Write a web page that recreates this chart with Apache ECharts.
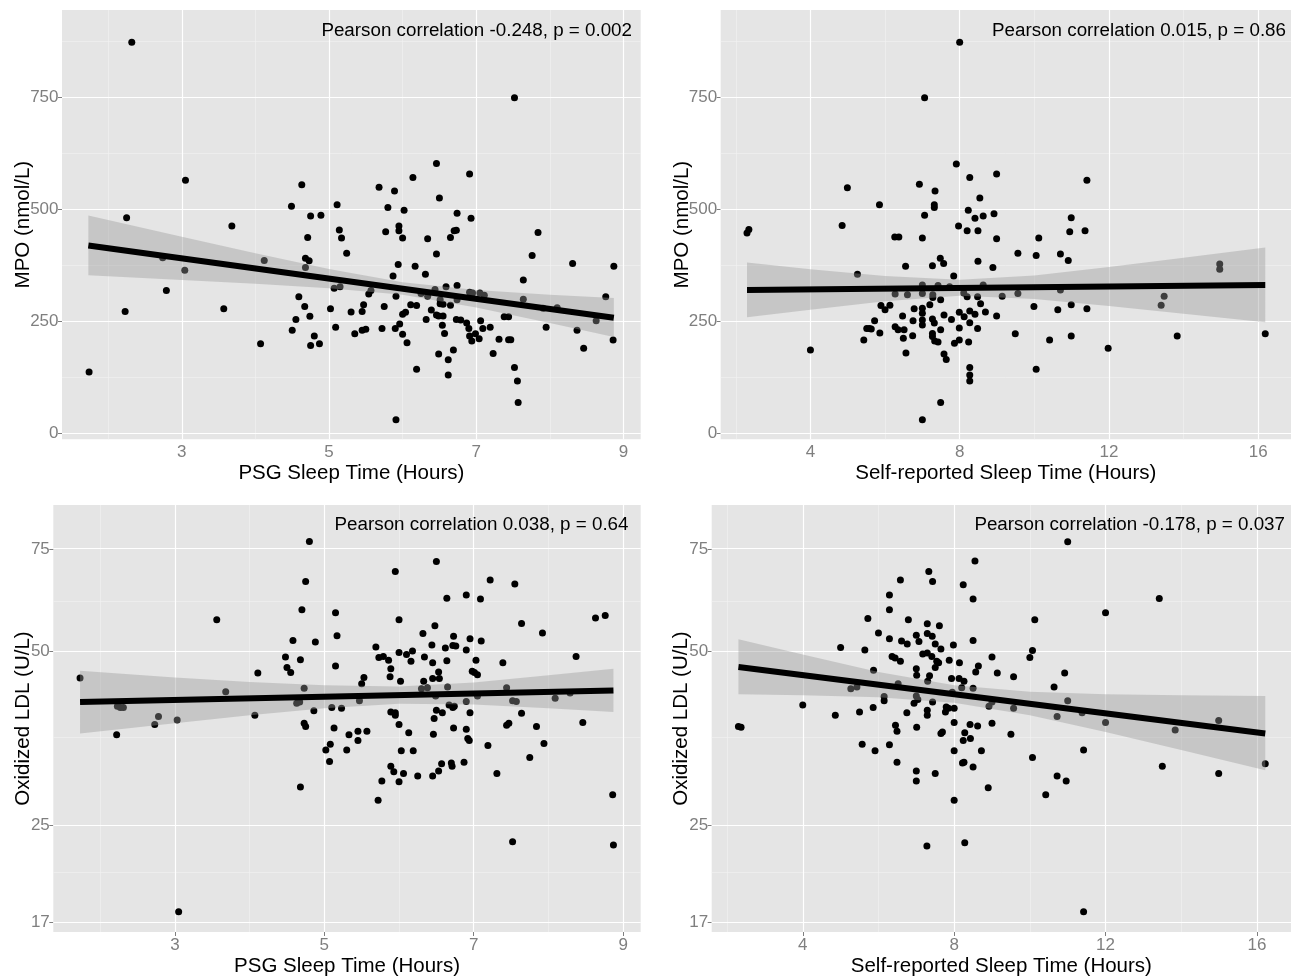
<!DOCTYPE html>
<html>
<head>
<meta charset="utf-8">
<script src="https://cdn.jsdelivr.net/npm/echarts@6/dist/echarts.min.js"></script>
<style>
  html, body { margin: 0; padding: 0; background: #fff; }
  #main { width: 1291px; height: 978px; }
</style>
</head>
<body>
<div id="main"></div>
<script>
// tick breaks (ggplot style: major + minor)
var psgTicks = [3, 5, 7, 9];
var psgMinor = [2, 4, 6, 8];
var selfTicks = [4, 8, 12, 16];
var selfMinor = [2, 6, 10, 14];
var mpoTicks = [0, 250, 500, 750];
var mpoMinor = [125, 375, 625, 875];
var oxTicks = [17, 25, 50, 75];
var oxMinor = [20.6, 35.4, 61.2];

var corrLabels = [
  'Pearson correlation -0.248, p = 0.002',
  'Pearson correlation 0.015, p = 0.86',
  'Pearson correlation 0.038, p = 0.64',
  'Pearson correlation -0.178, p = 0.037'
];

// MPO vs PSG sleep time
var psgMpoPoints = [
  [2.32,873],[3.05,565],[2.25,481],[3.68,463],[2.74,392],[3.04,364],[2.79,319],[2.23,272],[3.57,278],[1.74,137],
  [4.07,200],[4.12,386],[4.63,555],[4.49,507],[4.75,485],[4.89,487],[5.11,510],[5.14,454],[5.17,436],[5.24,402],
  [4.71,437],[4.68,391],[4.73,385],[4.68,370],[5.07,324],[5.15,327],[4.59,305],[4.67,283],[4.74,261],[4.55,254],
  [5.02,278],[5.09,237],[4.50,230],[4.80,217],[4.75,196],[4.87,200],[5.30,271],
  [7.52,749],[6.46,602],[6.91,579],[6.14,571],[5.68,549],[5.89,541],[6.50,525],[5.80,504],[6.02,498],[6.74,491],
  [6.93,480],[5.77,450],[5.95,463],[5.95,452],[6.70,452],[6.73,453],[7.84,448],[6.00,436],[6.34,434],[6.65,437],
  [6.46,400],[7.76,397],[8.31,379],[8.87,373],[5.94,377],[6.17,373],[5.87,351],[6.31,355],[7.64,342],[5.57,319],
  [5.54,311],[5.91,306],[6.25,312],[6.34,306],[6.44,321],[6.59,327],[6.74,330],[6.74,298],[6.91,315],[6.95,313],
  [7.05,313],[7.11,308],[7.64,299],[8.76,305],[6.51,298],[6.51,289],[6.55,288],[6.65,286],[5.45,272],[5.47,287],
  [5.75,283],[6.11,287],[6.19,285],[6.39,275],[6.00,266],[6.04,270],[6.46,264],[6.49,262],[6.55,262],[6.32,254],
  [6.73,254],[6.79,253],[6.87,246],[7.06,251],[7.38,260],[7.44,260],[8.10,280],[7.91,279],[8.63,251],[5.35,222],
  [5.45,230],[5.50,232],[5.72,234],[5.90,234],[5.96,244],[6.00,221],[6.06,202],[6.54,241],[6.57,223],[6.90,234],
  [6.91,217],[6.94,206],[6.99,222],[7.04,211],[7.09,234],[7.19,237],[7.31,210],[7.44,209],[7.47,209],[7.95,237],
  [8.37,230],[8.86,208],[6.69,186],[6.49,177],[6.62,164],[7.23,178],[8.46,190],[6.19,143],[6.62,130],[7.52,147],
  [7.56,117],[7.57,69],[5.91,30]
];
var psgMpoFit = [[1.73, 419], [8.87, 258]];
var psgMpoBandX = [1.73, 3, 4, 5, 6, 7, 8, 8.87];
var psgMpoBandLo = [353, 342, 334, 324, 309, 281, 246, 215];
var psgMpoBandHi = [486, 439, 402, 367, 337, 320, 309, 302];

// MPO vs self-reported sleep time
var selfMpoPoints = [
  [8.00,873],[7.06,749],[7.91,601],[8.27,571],[6.92,556],[4.99,548],[7.34,541],[8.54,525],[5.85,510],[7.32,510],
  [7.32,504],[8.23,498],[7.06,487],[8.63,485],[8.41,480],[4.85,464],[7.97,463],[8.20,452],[8.49,452],[2.30,447],
  [2.35,455],[6.26,438],[6.37,438],[7.00,436],[8.49,384],[7.48,391],[7.57,379],[6.55,373],[7.27,374],[5.26,355],
  [7.84,351],[7.00,331],[7.00,312],[6.27,311],[6.60,309],[7.28,309],[7.28,303],[7.42,330],[7.73,327],[8.11,313],
  [8.20,305],[8.48,305],[7.49,298],[8.56,289],[8.63,331],[7.20,287],[5.89,285],[6.13,286],[6.00,276],[6.78,278],
  [7.00,279],[7.00,268],[7.00,253],[7.00,242],[8.69,271],[8.41,266],[8.27,273],[7.99,270],[8.12,260],[6.47,262],
  [7.58,264],[7.78,254],[7.27,255],[7.32,246],[5.72,251],[5.51,234],[5.58,234],[5.63,233],[5.86,224],[6.27,238],
  [6.35,231],[6.51,231],[6.75,251],[6.49,212],[6.74,218],[5.43,208],[7.27,223],[7.27,216],[7.33,206],[7.42,204],
  [7.49,231],[7.86,201],[7.99,208],[8.24,204],[6.56,179],[7.58,177],[7.64,165],[4.00,186],[8.27,147],[8.27,130],
  [8.27,117],[7.49,69],[7.00,30],[8.27,247],[8.48,234],[7.99,235],
  [8.99,579],[11.41,565],[8.92,490],[10.99,481],[10.95,450],[11.36,452],[8.99,434],[10.12,436],[9.56,402],[10.05,397],
  [10.70,400],[10.91,386],[8.89,370],[14.97,378],[14.97,366],[9.14,306],[9.56,312],[10.70,320],[13.48,306],[13.40,286],
  [8.99,262],[9.99,283],[10.63,276],[10.99,287],[11.41,278],[9.49,222],[10.41,208],[10.99,217],[11.98,190],[13.83,217],
  [16.19,222],[10.05,143]
];
var selfMpoFit = [[2.30, 320], [16.19, 331]];
var selfMpoBandX = [2.3, 4, 6, 8, 10, 12, 14, 16.19];
var selfMpoBandLo = [259, 276, 295, 307, 300, 284, 267, 248];
var selfMpoBandHi = [381, 366, 351, 343, 352, 371, 392, 415];

// Oxidized LDL vs PSG sleep time (log axis)
var psgOxPoints = [
  [1.73,44.9],[2.23,40.1],[2.27,39.9],[2.31,39.9],[2.22,35.8],[2.73,37.3],[2.78,38.5],[3.03,38.0],[3.05,17.7],[3.56,56.6],
  [3.68,42.5],[4.07,38.7],[4.11,45.8],[4.80,77.3],[4.75,65.9],[4.70,58.9],[5.15,58.2],[5.17,53.1],[4.58,52.1],[4.88,51.8],
  [4.48,48.8],[4.68,48.3],[4.50,46.8],[4.55,45.9],[5.15,47.1],[4.73,43.1],[4.63,40.6],[4.67,40.8],[4.86,39.4],[5.10,39.9],
  [5.23,39.8],[4.73,37.5],[4.75,37.0],[5.13,36.8],[5.33,35.8],[5.08,34.5],[5.02,33.7],[5.30,33.7],[5.07,32.2],[4.68,29.1],
  [6.50,71.4],[5.95,68.6],[7.22,66.3],[7.55,65.3],[6.64,61.7],[6.90,62.5],[7.09,61.5],[8.76,57.6],[8.63,57.0],[6.00,56.6],
  [7.64,55.8],[7.92,53.7],[6.32,53.6],[6.48,55.3],[6.73,53.0],[6.95,52.5],[7.10,52.0],[6.44,51.2],[6.72,51.1],[6.76,51.0],
  [6.62,50.6],[6.90,50.2],[5.69,50.8],[5.73,48.7],[5.79,48.9],[5.86,48.2],[6.00,49.7],[6.10,49.3],[6.18,50.0],[6.16,48.0],
  [6.34,48.8],[6.45,47.7],[6.64,48.1],[7.03,48.2],[7.39,47.7],[8.37,48.9],[5.89,46.6],[5.88,45.1],[6.02,44.3],[6.53,46.0],
  [6.45,44.8],[6.54,44.8],[6.98,46.1],[7.01,45.9],[7.05,45.5],[5.53,45.0],[5.50,43.9],[6.33,44.3],[6.30,43.0],[6.38,43.2],
  [6.65,43.3],[7.44,43.2],[8.29,42.3],[8.09,41.4],[7.52,41.0],[7.57,40.9],[7.05,41.8],[6.49,41.8],[5.47,41.0],[6.90,40.9],
  [6.67,40.3],[6.72,39.9],[6.74,40.1],[5.89,39.2],[5.95,39.1],[5.95,38.7],[6.50,39.5],[6.58,39.1],[6.95,39.1],[7.64,39.0],
  [6.47,38.2],[6.00,37.3],[7.44,37.2],[7.47,37.5],[7.84,37.0],[8.46,37.6],[6.73,36.8],[6.90,36.6],[6.92,35.3],[6.94,35.0],
  [5.45,36.3],[5.45,35.0],[5.57,36.3],[6.13,36.1],[6.46,35.9],[7.19,34.3],[7.94,34.6],[6.03,33.6],[6.19,33.6],[7.75,32.7],
  [6.87,32.1],[5.89,31.6],[5.93,30.9],[6.06,30.7],[6.00,29.7],[6.25,30.4],[6.45,30.4],[6.53,31.0],[6.57,31.9],[6.70,32.0],
  [6.71,31.6],[7.31,30.7],[5.77,29.8],[5.72,27.6],[7.52,23.4],[8.86,28.2],[8.87,23.1]
];
var psgOxFit = [[1.73, 40.8], [8.87, 42.7]];
var psgOxBandX = [1.73, 3, 4, 5, 6, 7, 8, 8.87];
var psgOxBandLo = [36.0, 37.5, 38.7, 39.8, 40.5, 40.4, 39.8, 39.2];
var psgOxBandHi = [46.2, 45.0, 44.2, 43.6, 43.4, 44.1, 45.4, 46.6];

// Oxidized LDL vs self-reported sleep time (log axis)
var selfOxPoints = [
  [2.30,37.0],[2.37,36.9],[4.00,40.3],[4.86,38.7],[5.00,50.7],[5.64,50.2],[5.72,56.9],[6.00,53.7],[5.27,43.0],[5.43,43.3],
  [5.87,46.3],[5.50,39.2],[5.86,39.9],[5.57,34.5],[5.91,33.6],[6.15,41.7],[6.15,41.0],[6.29,62.5],[6.29,58.9],[6.29,52.5],
  [6.58,66.3],[6.36,48.9],[6.44,48.6],[6.58,48.0],[6.61,52.0],[6.76,51.4],[6.79,56.6],[6.45,37.2],[6.49,36.3],[6.29,34.4],
  [6.49,32.1],[6.75,39.1],[7.01,36.9],[7.00,53.2],[7.07,51.9],[7.00,46.6],[7.01,45.4],[6.94,40.6],[7.00,41.8],[7.04,41.2],
  [7.00,31.0],[7.00,29.8],[7.29,55.7],[7.29,53.6],[7.17,49.4],[7.29,49.6],[7.33,68.6],[7.43,65.9],[7.42,53.0],[7.50,51.4],
  [7.41,48.9],[7.54,48.0],[7.50,46.8],[7.61,55.3],[7.65,50.4],[7.59,47.7],[7.35,45.3],[7.30,44.3],[7.43,40.8],[7.29,39.5],
  [7.29,38.7],[7.50,30.7],[7.28,23.0],[7.65,36.0],[7.69,36.2],[7.79,40.0],[7.85,39.8],[7.77,39.2],[7.87,48.2],[7.93,44.8],
  [7.98,51.2],[7.95,42.4],[8.00,39.8],[8.00,37.6],[8.00,33.6],[8.00,27.6],[8.14,47.7],[8.13,44.8],[8.26,44.3],[8.20,43.2],
  [8.24,65.1],[8.50,61.5],[8.50,52.1],[8.55,71.5],[8.64,47.1],[8.57,46.0],[8.50,43.1],[8.42,37.3],[8.28,36.1],[8.24,35.0],
  [8.62,37.1],[8.26,32.1],[8.22,32.0],[8.50,31.5],[8.72,33.6],[8.28,23.3],[8.90,29.0],[8.43,35.3],[6.52,43.9],
  [11.00,77.2],[13.42,61.6],[12.00,58.2],[10.13,56.6],[10.07,50.1],[10.00,48.7],[9.00,48.8],[9.14,45.8],[9.57,45.1],[10.92,45.8],
  [10.64,43.3],[9.00,40.8],[8.92,40.1],[9.57,39.8],[11.00,41.0],[10.72,38.5],[11.38,39.1],[12.00,37.6],[13.84,36.5],[14.99,37.9],
  [9.00,37.5],[9.50,35.9],[11.42,33.7],[10.07,32.7],[10.72,30.4],[10.96,29.8],[10.42,28.2],[13.50,31.6],[14.99,30.7],[16.22,31.9],
  [11.42,17.7]
];
var selfOxFit = [[2.30, 46.9], [16.22, 36.0]];
var selfOxBandX = [2.3, 4, 6, 8, 10, 12, 14, 16.22];
var selfOxBandLo = [42.1, 41.9, 41.6, 40.7, 38.7, 36.2, 33.7, 31.1];
var selfOxBandHi = [52.4, 49.3, 46.0, 43.6, 42.5, 42.1, 41.9, 41.8];

var FONT = 'Liberation Sans, Arial, Helvetica, sans-serif';
var GREY = '#7F7F7F';

var panels = [
  { rect: [62, 10, 578.7, 429.3], xRange: [1.372, 9.235], yRange: [-13.4, 944.9], logY: false,
    xName: 'PSG Sleep Time (Hours)', yName: 'MPO (nmol/L)', yGap: 28,
    xTicks: psgTicks, xMinor: psgMinor, yTicks: mpoTicks, yMinor: mpoMinor,
    points: psgMpoPoints, fit: psgMpoFit, bx: psgMpoBandX, lo: psgMpoBandLo, hi: psgMpoBandHi,
    label: corrLabels[0], labelPos: [632, 30.5] },
  { rect: [720.7, 10, 578.3, 429.3], xRange: [1.595, 16.88], yRange: [-13.4, 944.9], logY: false,
    xName: 'Self-reported Sleep Time (Hours)', yName: 'MPO (nmol/L)', yGap: 27.5,
    xTicks: selfTicks, xMinor: selfMinor, yTicks: mpoTicks, yMinor: mpoMinor,
    points: selfMpoPoints, fit: selfMpoFit, bx: selfMpoBandX, lo: selfMpoBandLo, hi: selfMpoBandHi,
    label: corrLabels[1], labelPos: [1286, 30.5] },
  { rect: [53.3, 505, 587.4, 428.3], xRange: [1.372, 9.235], yRange: [16.33, 89.4], logY: true,
    xName: 'PSG Sleep Time (Hours)', yName: 'Oxidized LDL (U/L)', yGap: 19.5,
    xTicks: psgTicks, xMinor: psgMinor, yTicks: oxTicks, yMinor: oxMinor,
    points: psgOxPoints, fit: psgOxFit, bx: psgOxBandX, lo: psgOxBandLo, hi: psgOxBandHi,
    label: corrLabels[2], labelPos: [628.5, 524.7] },
  { rect: [711.7, 505, 587.3, 428.3], xRange: [1.594, 16.90], yRange: [16.33, 89.4], logY: true,
    xName: 'Self-reported Sleep Time (Hours)', yName: 'Oxidized LDL (U/L)', yGap: 19.5,
    xTicks: selfTicks, xMinor: selfMinor, yTicks: oxTicks, yMinor: oxMinor,
    points: selfOxPoints, fit: selfOxFit, bx: selfOxBandX, lo: selfOxBandLo, hi: selfOxBandHi,
    label: corrLabels[3], labelPos: [1285, 524.7] }
];

var option = {
  animation: false,
  backgroundColor: '#ffffff',
  textStyle: { fontFamily: FONT },
  grid: [], xAxis: [], yAxis: [], series: [], graphic: []
};

panels.forEach(function (p, i) {
  var f = p.logY ? Math.log : function (v) { return v; };
  var major = { color: '#ffffff', width: 1.2, type: 'solid' };
  var minor = { color: '#F2F2F2', width: 0.6, type: 'solid' };

  option.grid.push({
    left: p.rect[0], top: p.rect[1], width: p.rect[2], height: p.rect[3],
    show: true, backgroundColor: '#E5E5E5', borderWidth: 0
  });

  option.xAxis.push({
    gridIndex: i, type: 'value', min: p.xRange[0], max: p.xRange[1],
    name: p.xName, nameLocation: 'middle', nameGap: 24, nameMoveOverlap: false,
    nameTextStyle: { color: '#000', fontSize: 20.5, fontFamily: FONT },
    axisLine: { show: false },
    axisTick: { show: true, length: 4, customValues: p.xTicks, lineStyle: { color: GREY, width: 1 } },
    axisLabel: { customValues: p.xTicks, margin: 4.5, color: GREY, fontSize: 17, fontFamily: FONT },
    splitLine: { show: false }
  });

  var yVals = p.yTicks.map(f);
  option.yAxis.push({
    gridIndex: i, type: 'value', min: f(p.yRange[0]), max: f(p.yRange[1]),
    name: p.yName, nameLocation: 'middle', nameGap: p.yGap, nameMoveOverlap: false,
    nameTextStyle: { color: '#000', fontSize: 20.5, fontFamily: FONT },
    axisLine: { show: false },
    axisTick: { show: true, length: 4, customValues: yVals, lineStyle: { color: GREY, width: 1 } },
    axisLabel: {
      customValues: yVals, margin: 3.5, color: GREY, fontSize: 17, fontFamily: FONT,
      formatter: function (v) { return p.logY ? String(Math.round(Math.exp(v))) : String(Math.round(v)); }
    },
    splitLine: { show: false }
  });

  // panel grid lines, minor first then major
  var gl = [];
  p.xMinor.forEach(function (v) { gl.push({ xAxis: v, lineStyle: minor }); });
  p.yMinor.forEach(function (v) { gl.push({ yAxis: f(v), lineStyle: minor }); });
  p.xTicks.forEach(function (v) { gl.push({ xAxis: v, lineStyle: major }); });
  p.yTicks.forEach(function (v) { gl.push({ yAxis: f(v), lineStyle: major }); });

  var fitData = p.fit.map(function (d) { return [d[0], f(d[1])]; });

  option.series.push({
    type: 'line', xAxisIndex: i, yAxisIndex: i, z: 1, silent: true,
    data: fitData, symbol: 'none', lineStyle: { opacity: 0 },
    markLine: {
      silent: true, z: 1, symbol: ['none', 'none'], label: { show: false },
      emphasis: { disabled: true }, animation: false, data: gl
    }
  });

  option.series.push({
    type: 'scatter', xAxisIndex: i, yAxisIndex: i, z: 2, silent: true,
    data: p.points.map(function (d) { return [d[0], f(d[1])]; }),
    symbolSize: 7, itemStyle: { color: '#000000', opacity: 1 }
  });

  option.series.push({
    type: 'custom', xAxisIndex: i, yAxisIndex: i, z: 3, silent: true,
    data: [[p.bx[0], f(p.lo[0])]],
    renderItem: function (params, api) {
      var pts = [];
      for (var k = 0; k < p.bx.length; k++) pts.push(api.coord([p.bx[k], f(p.hi[k])]));
      for (var m = p.bx.length - 1; m >= 0; m--) pts.push(api.coord([p.bx[m], f(p.lo[m])]));
      return { type: 'polygon', shape: { points: pts }, style: { fill: 'rgba(153,153,153,0.4)' } };
    }
  });

  option.series.push({
    type: 'line', xAxisIndex: i, yAxisIndex: i, z: 4, silent: true,
    data: fitData, symbol: 'none', lineStyle: { color: '#000000', width: 6 }
  });

  option.graphic.push({
    type: 'text', x: p.labelPos[0], y: p.labelPos[1], z: 10, silent: true,
    style: { text: p.label, align: 'right', verticalAlign: 'middle', fill: '#000', fontSize: 18.8, fontFamily: FONT }
  });
});

var chart = echarts.init(document.getElementById('main'));
chart.setOption(option);
</script>
</body>
</html>
